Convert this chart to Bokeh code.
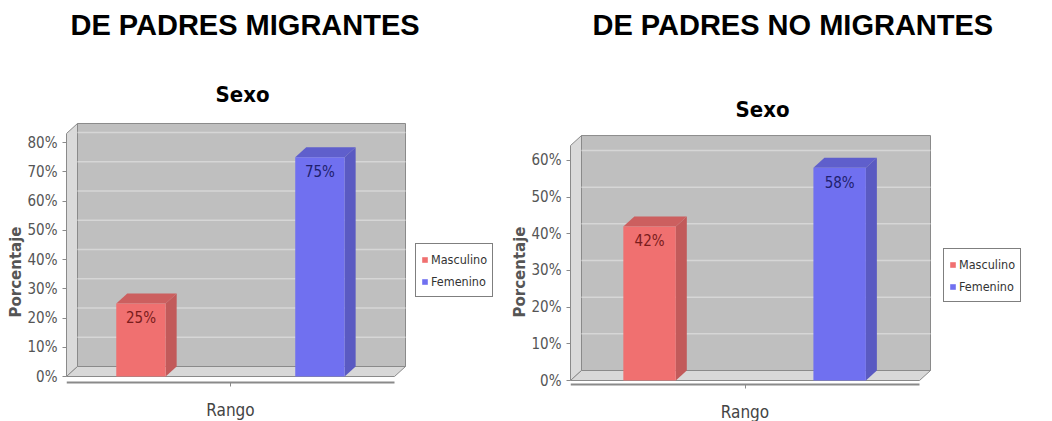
from bokeh.plotting import figure
from bokeh.layouts import row
from bokeh.models import (Range1d, FixedTicker, PrintfTickFormatter, Title,
                          Legend, LegendItem)
from bokeh.core.properties import value
from bokeh.embed import file_html
from bokeh.resources import INLINE

# ---------------- data ----------------
headers = ["DE PADRES MIGRANTES", "DE PADRES NO MIGRANTES"]
chart_title = "Sexo"
series = ["Masculino", "Femenino"]
values_migrantes = [25, 75]
values_no_migrantes = [42, 58]
ticks_migrantes = [0, 10, 20, 30, 40, 50, 60, 70, 80]
ticks_no_migrantes = [0, 10, 20, 30, 40, 50, 60]
x_label = "Rango"
y_label = "Porcentaje"

# ---------------- style ----------------
COND = "'DejaVu Sans Condensed', 'DejaVu Sans', sans-serif"
FRONT = ["#f07070", "#7070f0"]
SIDE = ["#c25a5a", "#5a5ac2"]
TOP = ["#cc5f5f", "#5f5fcc"]
LABEL_COL = ["#7a1c1c", "#20206e"]
WALL = "#bfbfbf"
GRID = "#d6d6d6"
SIDEWALL = "#dadada"
FLOOR = "#d8d8d8"
EDGE = "#8a8a8a"
DEPTH_X = 11
DEPTH_Y = 10
BAR_W = 0.276
X_RANGE = (-0.416, 1.478)   # extent of the drawn 3-D box (category units)

# layout settings per chart (pixels / axis extents)
cfgs = [
    dict(width=500, height=421, bl=66, box=339, extra=92, bt=122, bb=0,
         y_range=(-15.38, 86.84), wall_top=86.5, axis_at=-2.05,
         head_off=4, title_off=149, title_standoff=32, spacer_standoff=28.5,
         legend_loc=(349, 124)),
    dict(width=552, height=421, bl=70, box=360, extra=100, bt=122, bb=0,
         y_range=(-11.18, 70.36), wall_top=66.8, axis_at=-1.09,
         head_off=22, title_off=165, title_standoff=2, spacer_standoff=58.5,
         legend_loc=(373, 119)),
]


def make_chart(header, vals, ticks, cfg):
    fw = cfg["box"] + cfg["extra"]
    br = cfg["width"] - cfg["bl"] - fw
    fh = cfg["height"] - cfg["bt"] - cfg["bb"]
    bx0, bx1 = X_RANGE
    unit = (bx1 - bx0) / cfg["box"]
    x0, x1 = bx0, bx1 + cfg["extra"] * unit
    y0, y1 = cfg["y_range"]
    p = figure(width=cfg["width"], height=cfg["height"],
               x_range=Range1d(x0, x1), y_range=Range1d(y0, y1),
               output_backend="svg", toolbar_location=None,
               min_border_left=cfg["bl"], min_border_right=br,
               min_border_top=cfg["bt"], min_border_bottom=cfg["bb"])
    p.outline_line_color = None
    p.background_fill_color = "white"
    p.border_fill_color = "white"
    p.xgrid.visible = False
    p.ygrid.visible = False

    px_y = (y1 - y0) / fh
    dx = DEPTH_X * unit
    dy = DEPTH_Y * px_y
    wall_top = cfg["wall_top"]
    wall_right = bx1

    # left wall
    p.patch([x0, x0, x0 + dx, x0 + dx], [0, wall_top - dy, wall_top, dy],
            fill_color=SIDEWALL, line_color=EDGE, line_width=1)
    # floor
    p.patch([x0, wall_right - dx, wall_right, x0 + dx], [0, 0, dy, dy],
            fill_color=FLOOR, line_color=EDGE, line_width=1)
    # back wall
    p.quad(left=x0 + dx, right=wall_right, bottom=dy, top=wall_top,
           fill_color=WALL, line_color=EDGE, line_width=1)
    # grid lines on the back wall
    gl = [t + dy for t in ticks[1:]]
    p.segment(x0=[x0 + dx] * len(gl), y0=gl, x1=[wall_right] * len(gl), y1=gl,
              line_color=GRID, line_width=1.5)

    items = []
    for i, (name, v) in enumerate(zip(series, vals)):
        c = i
        l, r = c - BAR_W / 2, c + BAR_W / 2
        p.patch([r, r + dx, r + dx, r], [0, dy, v + dy, v],
                fill_color=SIDE[i], line_color=None)
        p.patch([l, l + dx, r + dx, r], [v, v + dy, v + dy, v],
                fill_color=TOP[i], line_color=None)
        front = p.vbar(x=[c], top=[v], bottom=0, width=BAR_W,
                       fill_color=FRONT[i], line_color=None)
        p.text(x=[c], y=[v], text=[f"{v}%"], text_align="center",
               text_baseline="top", y_offset=6,
               text_font=value(COND), text_font_size="15px",
               text_color=LABEL_COL[i])
        items.append(LegendItem(label=name, renderers=[front]))

    legend = Legend(items=items, location=cfg["legend_loc"])
    legend.border_line_color = "black"
    legend.border_line_width = 1
    legend.background_fill_color = "white"
    legend.background_fill_alpha = 1
    legend.label_text_font = COND
    legend.label_text_font_size = "12.5px"
    legend.label_text_color = "#333333"
    legend.glyph_width = 7
    legend.glyph_height = 7
    legend.label_standoff = 3
    legend.label_height = 20
    legend.spacing = 2
    legend.padding = 5
    legend.margin = 0
    p.add_layout(legend, "center")

    # axes
    yax = p.yaxis[0]
    yax.ticker = FixedTicker(ticks=ticks)
    yax.formatter = PrintfTickFormatter(format="%d%%")
    yax.bounds = (0, wall_top - dy)
    yax.axis_line_color = EDGE
    yax.major_tick_line_color = EDGE
    yax.major_tick_out = 4
    yax.major_tick_in = 0
    yax.minor_tick_line_color = None
    yax.major_label_text_font = COND
    yax.major_label_text_font_size = "15px"
    yax.major_label_text_color = "#555555"
    yax.major_label_standoff = 5
    yax.axis_label = y_label
    yax.axis_label_text_font = "DejaVu Sans"
    yax.axis_label_text_font_size = "15px"
    yax.axis_label_text_font_style = "bold"
    yax.axis_label_text_color = "#555555"
    yax.axis_label_standoff = 0

    xax = p.xaxis[0]
    xax.fixed_location = cfg["axis_at"]
    xax.ticker = FixedTicker(ticks=[(x0 + wall_right - dx) / 2])
    xax.bounds = (x0, wall_right - dx)
    xax.axis_line_color = EDGE
    xax.axis_line_width = 2
    xax.major_tick_line_color = EDGE
    xax.major_tick_out = 4
    xax.major_tick_in = 0
    xax.minor_tick_line_color = None
    xax.major_label_text_font_size = "0px"
    xax.major_label_text_color = None
    xax.major_label_standoff = 0
    xax.axis_label = x_label
    xax.axis_label_text_font = COND
    xax.axis_label_text_font_size = "17px"
    xax.axis_label_text_font_style = "normal"
    xax.axis_label_text_color = "#444444"
    xax.axis_label_standoff = 13

    # titles, stacked upward from the frame: chart title, spacer, header
    p.add_layout(Title(text=chart_title, align="left", offset=cfg["title_off"],
                       standoff=cfg["title_standoff"], text_font=COND,
                       text_font_size="22px", text_font_style="bold",
                       text_color="black"), "above")
    p.add_layout(Title(text=" ", align="left", standoff=cfg["spacer_standoff"],
                       text_font_size="2px"), "above")
    p.add_layout(Title(text=header, align="left", offset=cfg["head_off"],
                       standoff=-20, text_font="Liberation Sans",
                       text_font_size="29px", text_font_style="bold",
                       text_color="black"), "above")
    return p


p1 = make_chart(headers[0], values_migrantes, ticks_migrantes, cfgs[0])
p2 = make_chart(headers[1], values_no_migrantes, ticks_no_migrantes, cfgs[1])
layout = row(p1, p2, spacing=0)

open("out.html", "w").write(file_html(layout, INLINE))
